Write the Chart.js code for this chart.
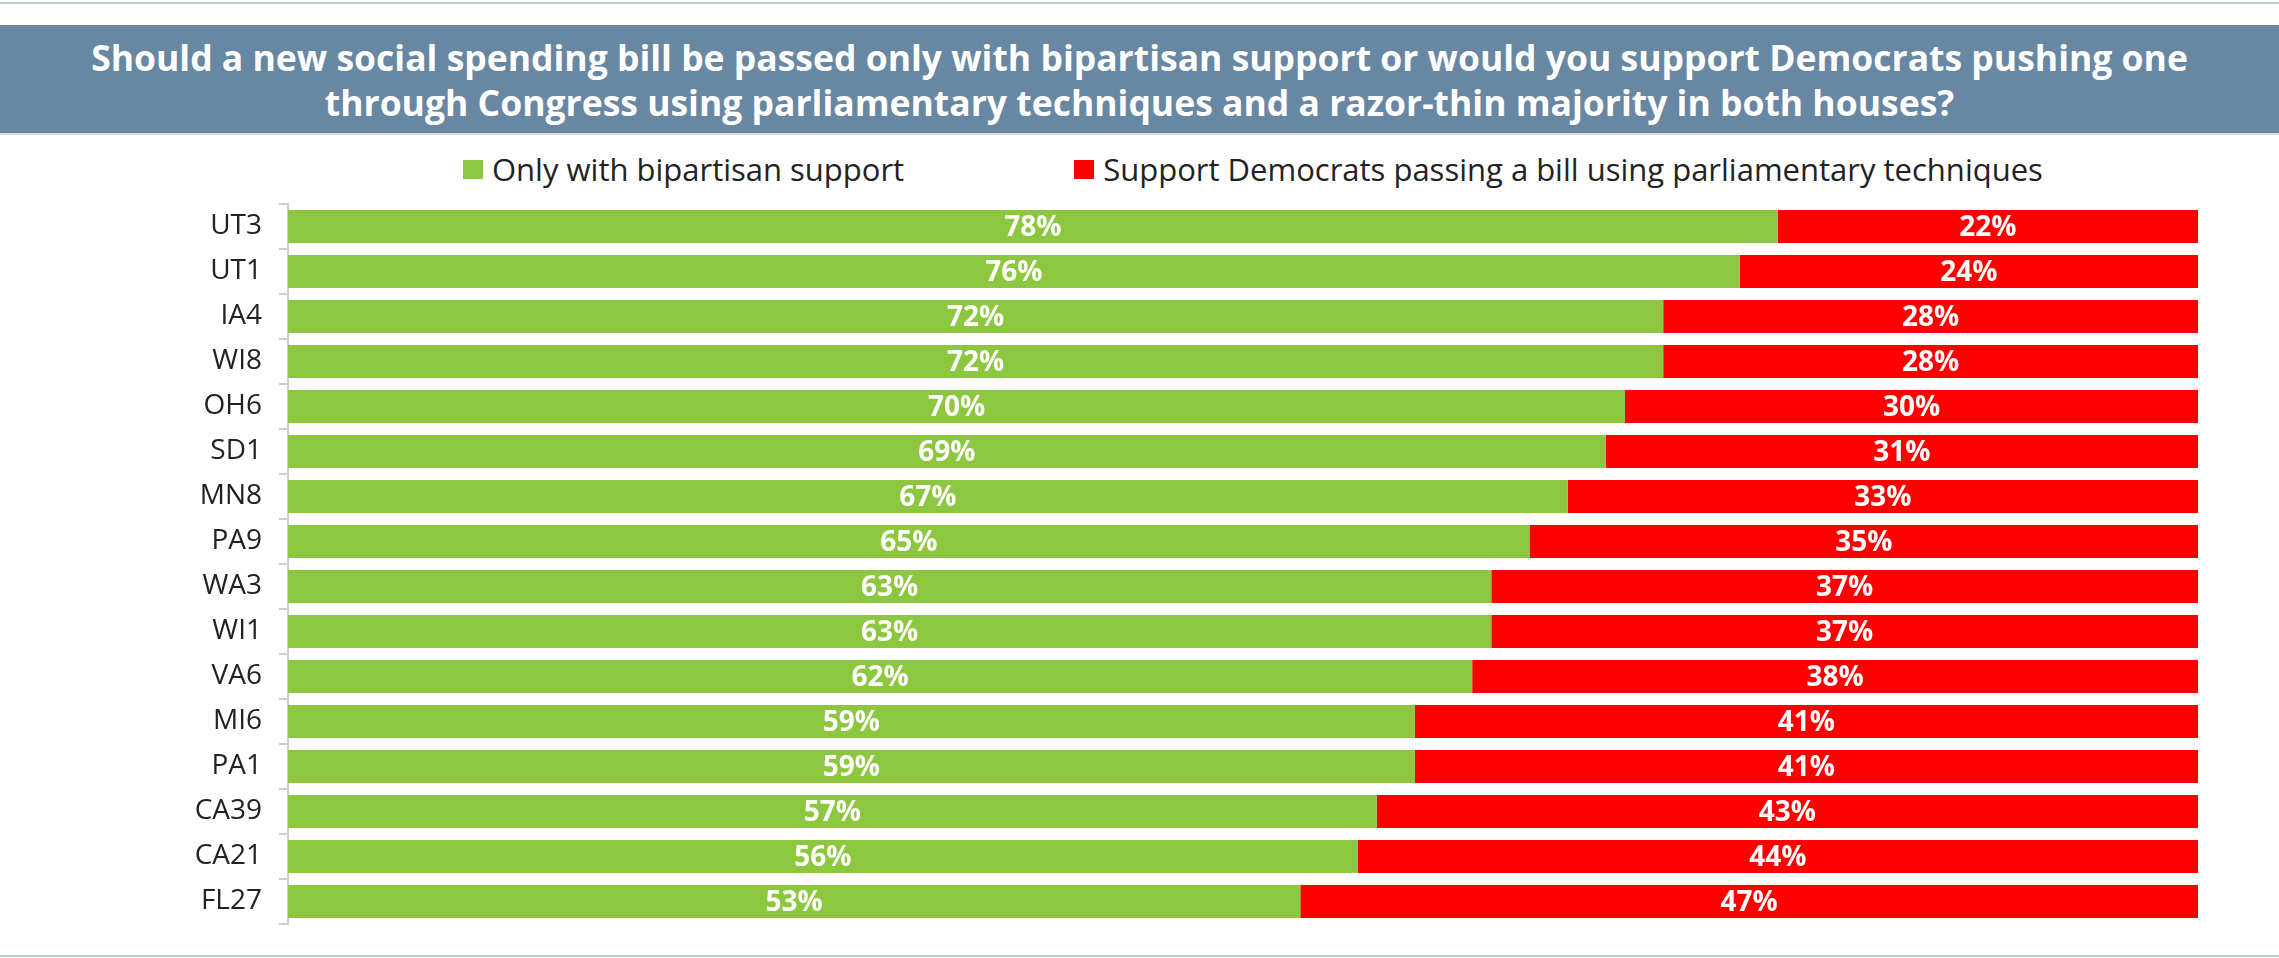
<!DOCTYPE html>
<html>
<head>
<meta charset="utf-8">
<script src="https://cdn.jsdelivr.net/npm/chart.js@4.4.1/dist/chart.umd.min.js"></script>
<style>
  html, body { margin: 0; padding: 0; background: #fff; }
  body { width: 2279px; height: 958px; position: relative; overflow: hidden; font-family: "Open Sans", "Noto Sans", sans-serif; }
  .rule { position: absolute; left: 0; width: 2279px; height: 2px; }
  #rule-top { top: 2px; background: #bccbd5; }
  #rule-bottom { top: 955px; background: #c3ccd4; }
  #banner {
    position: absolute; left: 0; top: 25px; width: 2279px; height: 110px;
    background: #6887a2; border-bottom: 2px solid #d3dfe7;
    color: #fff; font-weight: 700; font-size: 35.5px; line-height: 45px;
    text-align: center; box-sizing: border-box; padding-top: 10px;
  }
  #legend { position: absolute; top: 148px; left: 463px; display: flex; gap: 170px; }
  .legend-item { display: flex; align-items: center; font-size: 31px; color: #222; line-height: 42px; }
  .legend-box { width: 20px; height: 19px; margin-right: 9px; }
  #wrap { position: absolute; left: 0; top: 0; width: 2279px; height: 958px; }
</style>
</head>
<body>
<div class="rule" id="rule-top"></div>
<div id="banner">Should a new social spending bill be passed only with bipartisan support or would you support Democrats pushing one<br>through Congress using parliamentary techniques and a razor-thin majority in both houses?</div>
<div id="legend"></div>
<div id="wrap"><canvas id="chart"></canvas></div>
<div class="rule" id="rule-bottom"></div>
<script>
// ── Data ──
const districts = ['UT3','UT1','IA4','WI8','OH6','SD1','MN8','PA9','WA3','WI1','VA6','MI6','PA1','CA39','CA21','FL27'];
const bipartisanOnly = [78, 76, 72, 72, 70, 69, 67, 65, 63, 63, 62, 59, 59, 57, 56, 53];
const partyLine = [22, 24, 28, 28, 30, 31, 33, 35, 37, 37, 38, 41, 41, 43, 44, 47];
const seriesNames = ['Only with bipartisan support', 'Support Democrats passing a bill using parliamentary techniques'];
const seriesColors = ['#8dc63f', '#ff0000'];

// ── Percentage labels centred in each segment ──
const barLabels = {
  id: 'barLabels',
  afterDatasetsDraw(chart) {
    const ctx = chart.ctx;
    ctx.save();
    ctx.fillStyle = '#fff';
    ctx.font = '700 28px "Open Sans", sans-serif';
    ctx.textAlign = 'center';
    ctx.textBaseline = 'middle';
    chart.data.datasets.forEach((ds, i) => {
      chart.getDatasetMeta(i).data.forEach((bar, j) => {
        const cx = (bar.x + bar.base) / 2;
        ctx.fillText(ds.data[j] + '%', cx, bar.y + 2);
      });
    });
    ctx.restore();
  }
};

const chart = new Chart(document.getElementById('chart'), {
  type: 'bar',
  data: {
    labels: districts,
    datasets: [
      { label: seriesNames[0], data: bipartisanOnly, backgroundColor: seriesColors[0] },
      { label: seriesNames[1], data: partyLine, backgroundColor: seriesColors[1] },
    ]
  },
  options: {
    indexAxis: 'y',
    responsive: true, maintainAspectRatio: false, animation: false,
    layout: { padding: { top: 204, right: 81, bottom: 34, left: 0 } },
    datasets: { bar: { categoryPercentage: 1, barPercentage: 0.73, borderWidth: 0 } },
    plugins: { legend: { display: false }, tooltip: { enabled: false } },
    scales: {
      x: { stacked: true, min: 0, max: 100, display: false },
      y: {
        stacked: true,
        afterFit: (scale) => { scale.width = 288; },
        border: { display: true, color: '#c9d0d8', width: 2 },
        grid: { drawOnChartArea: false, drawTicks: true, tickLength: 9, color: '#c9d0d8', lineWidth: 2 },
        ticks: { color: '#222', padding: 17, font: { family: '"Open Sans", sans-serif', size: 28 } }
      }
    }
  },
  plugins: [barLabels]
});

// ── HTML legend built from the datasets ──
document.getElementById('legend').innerHTML = chart.data.datasets.map(ds =>
  `<div class="legend-item"><span class="legend-box" style="background:${ds.backgroundColor}"></span>${ds.label}</div>`
).join('');
</script>
</body>
</html>
